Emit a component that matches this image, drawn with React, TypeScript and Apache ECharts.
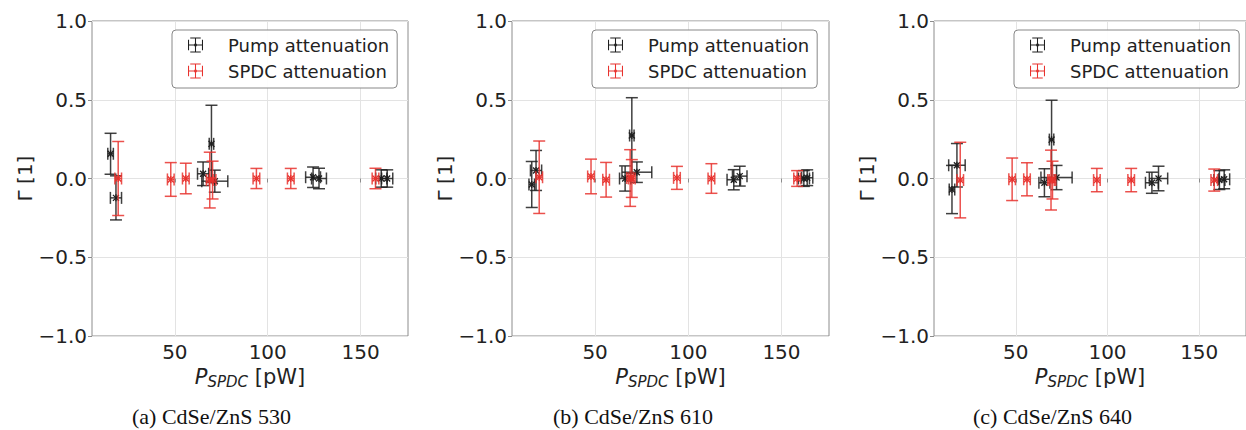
import React, { useEffect, useRef } from "react";
import * as echarts from "echarts";

// ---------- data ----------
const panelCaptions = ["(a) CdSe/ZnS 530", "(b) CdSe/ZnS 610", "(c) CdSe/ZnS 640"];
const seriesNames = ["Pump attenuation", "SPDC attenuation"];
const xTicks = [50, 100, 150];
const yTicks = [-1, -0.5, 0, 0.5, 1];

// Panel (a)
const aPumpX = [15.4, 18.3, 65.2, 69.7, 71.5, 124.4, 127.6, 161.1, 164.3];
const aPumpY = [0.157, -0.123, 0.03, 0.22, -0.017, 0.008, 0.0, 0.0, 0.0];
const aPumpXErr = [1.5, 3, 3, 1.2, 7, 4, 4, 3, 3];
const aPumpYErr = [0.13, 0.14, 0.075, 0.245, 0.07, 0.065, 0.065, 0.055, 0.055];
const aSpdcX = [19.5, 47.8, 55.9, 68.8, 70.3, 93.9, 112.4, 158.0];
const aSpdcY = [0.0, -0.006, 0.0, -0.01, -0.01, 0.0, 0.0, 0.0];
const aSpdcXErr = [1.8, 1.8, 1.8, 1.8, 1.8, 1.8, 1.8, 1.8];
const aSpdcYErr = [0.235, 0.107, 0.097, 0.177, 0.12, 0.064, 0.064, 0.065];

// Panel (b)
const bPumpX = [16.0, 18.3, 66.1, 69.7, 72.4, 124.4, 127.6, 162.0, 163.8];
const bPumpY = [-0.038, 0.051, 0.0, 0.273, 0.04, -0.008, 0.015, 0.0, 0.005];
const bPumpXErr = [1.5, 3, 3, 1.2, 8, 3.6, 3.9, 3, 3];
const bPumpYErr = [0.146, 0.127, 0.08, 0.24, 0.065, 0.064, 0.063, 0.05, 0.05];
const bSpdcX = [20.0, 47.8, 55.9, 68.8, 69.7, 93.9, 112.4, 158.4];
const bSpdcY = [0.008, 0.013, -0.008, 0.003, 0.0, 0.004, 0.0, 0.0];
const bSpdcXErr = [1.8, 1.8, 1.8, 1.8, 1.8, 1.8, 1.8, 1.8];
const bSpdcYErr = [0.23, 0.11, 0.11, 0.18, 0.12, 0.073, 0.094, 0.05];

// Panel (c)
const cPumpX = [15.2, 17.9, 65.6, 69.5, 72.2, 124.2, 127.8, 161.0, 163.6];
const cPumpY = [-0.07, 0.084, -0.027, 0.247, 0.006, -0.027, 0.0, -0.01, -0.005];
const cPumpXErr = [1.5, 4.5, 3, 1.2, 8.5, 3.5, 5, 3, 3];
const cPumpYErr = [0.153, 0.138, 0.089, 0.25, 0.077, 0.067, 0.078, 0.06, 0.06];
const cSpdcX = [19.7, 48.0, 56.1, 69.2, 70.0, 94.2, 112.9, 158.2];
const cSpdcY = [-0.01, -0.005, -0.005, -0.01, -0.01, -0.01, -0.01, -0.01];
const cSpdcXErr = [1.8, 1.8, 1.8, 1.8, 1.8, 1.8, 1.8, 1.8];
const cSpdcYErr = [0.24, 0.135, 0.105, 0.19, 0.12, 0.074, 0.074, 0.07];

const panels = [
  { pump: [aPumpX, aPumpY, aPumpXErr, aPumpYErr], spdc: [aSpdcX, aSpdcY, aSpdcXErr, aSpdcYErr] },
  { pump: [bPumpX, bPumpY, bPumpXErr, bPumpYErr], spdc: [bSpdcX, bSpdcY, bSpdcXErr, bSpdcYErr] },
  { pump: [cPumpX, cPumpY, cPumpXErr, cPumpYErr], spdc: [cSpdcX, cSpdcY, cSpdcXErr, cSpdcYErr] },
];

// ---------- layout / style ----------
const gridLefts = [92, 512, 934];
const gridWidths = [316, 317, 316];
const gridTop = 21;
const gridHeight = 315;
const xMin = 5.4;
const xMax = 175.5;
const captionLefts = [132, 553, 973];
const PUMP_COLOR = "#1f1f1f";
const SPDC_COLOR = "#e8322e";
const FONT = "DejaVu Sans";
const ICON =
  "path://M9.3,0H10.7V20H9.3Z M3,0H17V1.4H3Z M3,18.6H17V20H3Z M0,9.3H20V10.7H0Z M0,3H1.4V17H0Z M18.6,3H20V17H18.6Z M8.3,8.3H11.7V11.7H8.3Z";

function zipData(arrs: number[][]) {
  const [xs, ys, xe, ye] = arrs;
  return xs.map((x, i) => [x, ys[i], xe[i], ye[i]]);
}

function renderErrorBar(params: any, api: any) {
  const x = api.value(0);
  const y = api.value(1);
  const xe = api.value(2);
  const ye = api.value(3);
  const c = api.coord([x, y]);
  const l = api.coord([x - xe, y]);
  const r = api.coord([x + xe, y]);
  const t = api.coord([x, y + ye]);
  const b = api.coord([x, y - ye]);
  const color = api.visual("color");
  const st = { stroke: color, lineWidth: 1.5, opacity: 0.85 };
  const cap = 6;
  const m = 3;
  const line = (x1: number, y1: number, x2: number, y2: number, s: any = st) => ({
    type: "line",
    shape: { x1, y1, x2, y2 },
    style: s,
  });
  const ms = { stroke: color, lineWidth: 1.3, opacity: 1 };
  return {
    type: "group",
    children: [
      line(c[0], t[1], c[0], b[1]),
      line(c[0] - cap, t[1], c[0] + cap, t[1]),
      line(c[0] - cap, b[1], c[0] + cap, b[1]),
      line(l[0], c[1], r[0], c[1]),
      line(l[0], c[1] - cap, l[0], c[1] + cap),
      line(r[0], c[1] - cap, r[0], c[1] + cap),
      line(c[0] - m, c[1] - m, c[0] + m, c[1] + m, ms),
      line(c[0] - m, c[1] + m, c[0] + m, c[1] - m, ms),
      line(c[0], c[1] - m - 0.5, c[0], c[1] + m + 0.5, ms),
    ],
  };
}

export default function App() {
  const ref = useRef<HTMLDivElement>(null);
  useEffect(() => {
    if (!ref.current) return;
    const chart = echarts.init(ref.current, null, { renderer: "svg" });

    const grids = gridLefts.map((left, i) => ({
      left,
      top: gridTop,
      width: gridWidths[i],
      height: gridHeight,
      show: true,
      borderColor: "#8c8c8c",
      borderWidth: 1,
      backgroundColor: "#fff",
      containLabel: false,
    }));

    const xAxes = gridLefts.map((_, i) => ({
      type: "value",
      gridIndex: i,
      min: xMin,
      max: xMax,
      axisLine: { show: false },
      axisTick: { show: true, length: 4, customValues: xTicks, lineStyle: { color: "#8c8c8c" } },
      axisLabel: {
        customValues: xTicks,
        fontFamily: FONT,
        fontSize: 20,
        color: "#222",
        margin: 6,
      },
      splitLine: { show: true, lineStyle: { color: "#e3e3e3", width: 1 } },
      name: "{p|P}{s|SPDC}{n| [pW]}",
      nameLocation: "middle",
      nameGap: 27,
      nameTextStyle: {
        fontFamily: FONT,
        color: "#222",
        rich: {
          p: { fontFamily: FONT, fontSize: 21, fontStyle: "italic", color: "#222", lineHeight: 25 },
          s: { fontFamily: FONT, fontSize: 15, fontStyle: "italic", color: "#222", lineHeight: 15, verticalAlign: "bottom" },
          n: { fontFamily: FONT, fontSize: 21, color: "#222", lineHeight: 25 },
        },
      },
    }));

    const yAxes = gridLefts.map((_, i) => ({
      type: "value",
      gridIndex: i,
      min: yTicks[0],
      max: yTicks[yTicks.length - 1],
      interval: 0.5,
      axisLine: { show: false },
      axisTick: { show: true, length: 4, lineStyle: { color: "#8c8c8c" } },
      axisLabel: {
        fontFamily: FONT,
        fontSize: 20,
        color: "#222",
        margin: 5,
        formatter: (v: number) => (v < 0 ? "\u2212" : "") + Math.abs(v).toFixed(1),
      },
      splitLine: { show: true, lineStyle: { color: "#e3e3e3", width: 1 } },
      name: "\u0393 [1]",
      nameLocation: "middle",
      nameRotate: 90,
      nameGap: 52,
      nameTextStyle: { fontFamily: FONT, fontSize: 20, color: "#222" },
    }));

    const series: any[] = [];
    panels.forEach((p, i) => {
      series.push({
        type: "custom",
        name: seriesNames[0],
        xAxisIndex: i,
        yAxisIndex: i,
        renderItem: renderErrorBar,
        itemStyle: { color: PUMP_COLOR },
        encode: { x: 0, y: 1 },
        data: zipData(p.pump),
        clip: false,
        z: 3,
      });
      series.push({
        type: "custom",
        name: seriesNames[1],
        xAxisIndex: i,
        yAxisIndex: i,
        renderItem: renderErrorBar,
        itemStyle: { color: SPDC_COLOR },
        encode: { x: 0, y: 1 },
        data: zipData(p.spdc),
        clip: false,
        z: 4,
      });
    });

    const legends = gridLefts.map((left) => ({
      left: left + 80,
      top: 30,
      orient: "vertical",
      padding: [6, 8, 8, 16],
      itemWidth: 19,
      itemHeight: 15,
      itemGap: 8,
      backgroundColor: "rgba(255,255,255,0.9)",
      borderColor: "#888",
      borderWidth: 1,
      borderRadius: 4,
      selectedMode: false,
      textStyle: { fontFamily: FONT, fontSize: 18, color: "#222", lineHeight: 18, padding: [0, 0, 0, 18] },
      data: [
        { name: seriesNames[0], icon: ICON, itemStyle: { color: PUMP_COLOR } },
        { name: seriesNames[1], icon: ICON, itemStyle: { color: SPDC_COLOR } },
      ],
    }));

    const graphic = panelCaptions.map((t, i) => ({
      type: "text",
      left: captionLefts[i],
      top: 405,
      style: { text: t, fontFamily: "Liberation Serif", fontSize: 22, fill: "#111" },
    }));

    chart.setOption({
      animation: false,
      backgroundColor: "#fff",
      grid: grids,
      xAxis: xAxes,
      yAxis: yAxes,
      legend: legends,
      series,
      graphic,
    });
    return () => chart.dispose();
  }, []);
  return (
    <div
      ref={ref}
      style={{ position: "fixed", left: 0, top: 0, width: 1246, height: 430, background: "#fff" }}
    />
  );
}
